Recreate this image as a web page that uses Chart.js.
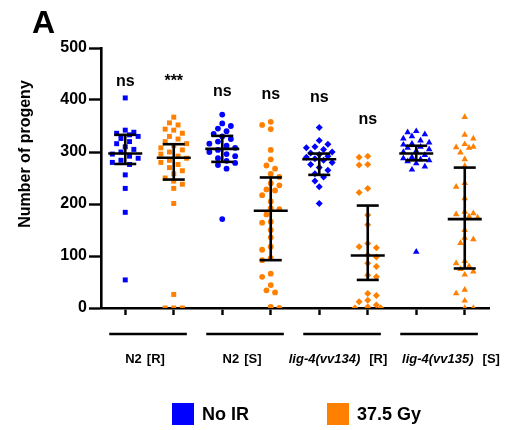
<!DOCTYPE html>
<html>
<head>
<meta charset="utf-8">
<script src="https://cdn.jsdelivr.net/npm/chart.js@4/dist/chart.umd.min.js"></script>
<style>
  html, body { margin: 0; padding: 0; background: #fff; }
  canvas { display: block; }
</style>
</head>
<body>
<canvas id="progeny" width="506" height="430"></canvas>
<script>
// Progeny counts per worm, four strains, without IR and after 37.5 Gy
const n2R_noIR = [404, 342, 338, 336, 333, 330, 326, 320, 316, 310, 305, 300, 296, 292, 288, 284, 280, 276, 256, 230, 184, 54];
const n2R_ir   = [367, 356, 352, 344, 342, 336, 330, 325, 320, 316, 312, 308, 304, 300, 296, 292, 288, 284, 280, 276, 270, 264, 258, 250, 244, 238, 230, 201, 26, 0, 0, 0];
const n2S_noIR = [372, 355, 350, 345, 340, 335, 330, 325, 320, 316, 312, 308, 304, 300, 296, 292, 288, 283, 279, 275, 268, 171];
const n2S_ir   = [358, 352, 344, 304, 286, 274, 268, 258, 252, 240, 236, 228, 226, 217, 205, 192, 190, 180, 166, 164, 150, 136, 118, 112, 96, 92, 66, 60, 44, 34, 30, 2, 0];
const lig134_noIR = [347, 322, 315, 310, 308, 305, 300, 298, 295, 292, 290, 287, 284, 280, 276, 270, 265, 258, 252, 244, 233, 201];
const lig134_ir   = [292, 290, 276, 275, 230, 222, 179, 160, 124, 118, 116, 102, 98, 86, 80, 63, 60, 28, 24, 15, 12, 6, 2, 0, 0];
const lig135_noIR = [340, 338, 334, 330, 326, 322, 318, 316, 314, 310, 308, 305, 302, 300, 294, 290, 288, 286, 284, 282, 278, 272, 266, 108];
const lig135_ir   = [367, 333, 326, 315, 310, 309, 308, 299, 286, 273, 240, 233, 211, 185, 182, 180, 176, 174, 150, 135, 132, 125, 90, 86, 80, 75, 70, 64, 35, 28, 14, 0, 0];

const groupValues = [n2R_noIR, n2R_ir, n2S_noIR, n2S_ir, lig134_noIR, lig134_ir, lig135_noIR, lig135_ir];
const groupShapes = ['rect', 'rect', 'circle', 'circle', 'rectRot', 'rectRot', 'triangle', 'triangle'];

// centre line and whiskers drawn over each cloud
const barMid  = [297, 289, 306, 187, 286, 101, 297, 171];
const barLow  = [277, 247, 281,  92, 256,  54, 284,  76];
const barHigh = [333, 315, 331, 251, 297, 197, 312, 270];

// significance marks above each group
const sigText  = ['ns', '***', 'ns', 'ns', 'ns', 'ns', '', ''];
const sigLevel = [435, 435, 416, 410, 404, 362, 0, 0];

const strainNames = ['N2', 'N2', 'lig-4(vv134)', 'lig-4(vv135)'];
const strainItalic = [false, false, true, true];
const strainClass = ['[R]', '[S]', '[R]', '[S]'];

const yTicks = [0, 100, 200, 300, 400, 500];
const legendLabels = ['No IR', '37.5 Gy'];

const BLUE = '#0000ff';
const ORANGE = '#ff8000';

// simple beeswarm: spread points sideways, at most ~13px either side of the group
const PX_PER_X = 48.5, PX_PER_Y = 0.52, GAP = 6.5, STEP = 4.3;
function swarm(values, gx) {
  const placed = [];
  const sorted = [...values].sort((a, b) => b - a);
  return sorted.map((v, n) => {
    const py = v * PX_PER_Y;
    const side = n % 2 ? -1 : 1;
    let best = 0, bestDist = -1;
    for (let k = 0; k < 7; k++) {
      const cand = k === 0 ? 0 : (k % 2 ? side : -side) * Math.ceil(k / 2) * STEP;
      const d = placed.reduce((m, p) => Math.min(m, Math.hypot(p.px - cand, p.py - py)), Infinity);
      if (d >= GAP) { best = cand; break; }
      if (d > bestDist) { bestDist = d; best = cand; }
    }
    placed.push({ px: best, py });
    return { x: gx + best / PX_PER_X, y: v };
  });
}

const datasets = groupValues.map((vals, i) => ({
  label: legendLabels[i % 2],
  data: swarm(vals, i),
  pointStyle: groupShapes[i],
  pointRadius: groupShapes[i] === 'circle' ? 2.9 : (groupShapes[i] === 'triangle' ? 3.8 : 3.5),
  backgroundColor: i % 2 ? ORANGE : BLUE,
  borderWidth: 0,
  showLine: false
}));

const FONT = 'Liberation Sans, Arial, sans-serif';

// error bars, significance text, strain labels, y title, legend, panel letter
const extras = {
  id: 'extras',
  afterDatasetsDraw(chart) {
    const { ctx, scales: { x, y } } = chart;
    ctx.save();
    ctx.strokeStyle = '#000';
    ctx.lineWidth = 2.6;
    ctx.lineCap = 'butt';
    groupValues.forEach((_, i) => {
      const cx = x.getPixelForValue(i);
      const line = (x0, y0, x1, y1) => { ctx.beginPath(); ctx.moveTo(x0, y0); ctx.lineTo(x1, y1); ctx.stroke(); };
      line(cx, y.getPixelForValue(barLow[i]), cx, y.getPixelForValue(barHigh[i]));
      line(cx - 11, y.getPixelForValue(barLow[i]), cx + 11, y.getPixelForValue(barLow[i]));
      line(cx - 11, y.getPixelForValue(barHigh[i]), cx + 11, y.getPixelForValue(barHigh[i]));
      line(cx - 17, y.getPixelForValue(barMid[i]), cx + 17, y.getPixelForValue(barMid[i]));
    });

    ctx.fillStyle = '#000';
    ctx.textAlign = 'center';
    ctx.textBaseline = 'middle';
    ctx.font = 'bold 16px ' + FONT;
    sigText.forEach((t, i) => {
      if (t) ctx.fillText(t, x.getPixelForValue(i), y.getPixelForValue(sigLevel[i]));
    });

    // strain brackets and names under the axis
    const lineY = 334, textY = 359;
    strainNames.forEach((name, k) => {
      const x0 = x.getPixelForValue(2 * k - 0.33), x1 = x.getPixelForValue(2 * k + 1.27);
      ctx.lineWidth = 2.4;
      ctx.beginPath(); ctx.moveTo(x0, lineY); ctx.lineTo(x1, lineY); ctx.stroke();
      const nameFont = (strainItalic[k] ? 'italic ' : '') + 'bold 13px ' + FONT;
      const tagFont = 'bold 13px ' + FONT;
      ctx.font = nameFont; const wn = ctx.measureText(name).width;
      ctx.font = tagFont; const wt = ctx.measureText(strainClass[k]).width;
      const gap = strainItalic[k] ? 9 : 5;
      const center = strainItalic[k] ? (k === 2 ? 338 : 451) : (x0 + x1) / 2 - 3;
      const left = center - (wn + gap + wt) / 2;
      ctx.textAlign = 'left';
      ctx.font = nameFont; ctx.fillText(name, left, textY);
      ctx.font = tagFont; ctx.fillText(strainClass[k], left + wn + gap, textY);
    });

    // y axis title
    ctx.save();
    ctx.translate(26, 154);
    ctx.rotate(-Math.PI / 2);
    ctx.textAlign = 'center';
    ctx.font = 'bold 16px ' + FONT;
    ctx.fillText('Number of progeny', 0, 0);
    ctx.restore();

    // legend
    ctx.font = 'bold 18px ' + FONT;
    ctx.textAlign = 'left';
    [[172, BLUE], [327, ORANGE]].forEach(([lx, col], i) => {
      ctx.fillStyle = col;
      ctx.fillRect(lx, 403, 22, 22);
      ctx.fillStyle = '#000';
      ctx.fillText(legendLabels[i], lx + 30, 415);
    });

    // panel letter
    ctx.font = 'bold 32px ' + FONT;
    ctx.textBaseline = 'alphabetic';
    ctx.fillText('A', 32, 33);
    ctx.restore();
  }
};

new Chart(document.getElementById('progeny'), {
  type: 'scatter',
  data: { datasets },
  options: {
    responsive: false,
    animation: false,
    layout: { padding: { top: 48, right: 17, left: 0, bottom: 0 } },
    plugins: { legend: { display: false }, tooltip: { enabled: false } },
    scales: {
      x: {
        type: 'linear',
        min: -0.5,
        max: 7.5,
        afterBuildTicks: s => { s.ticks = groupValues.map((_, i) => ({ value: i })); },
        afterFit: s => { s.height = 122; },
        ticks: { callback: () => '', padding: 0 },
        grid: { drawOnChartArea: false, tickLength: 7, tickWidth: 2.4, tickColor: '#000' },
        border: { color: '#000', width: 2.6 }
      },
      y: {
        min: 0,
        max: 500,
        afterBuildTicks: s => { s.ticks = yTicks.map(v => ({ value: v })); },
        afterFit: s => { s.width = 101; },
        ticks: { color: '#000', font: { family: FONT, size: 16, weight: 'bold' }, padding: 2 },
        grid: { drawOnChartArea: false, tickLength: 12, tickWidth: 2.4, tickColor: '#000' },
        border: { color: '#000', width: 2.6 }
      }
    }
  },
  plugins: [extras]
});
</script>
</body>
</html>
